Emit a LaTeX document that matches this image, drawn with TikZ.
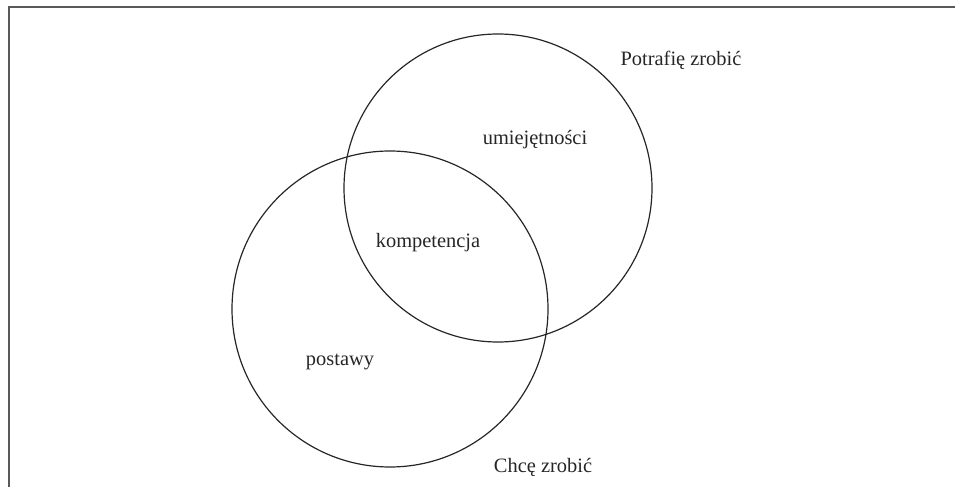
\documentclass[tikz,border=0pt]{standalone}
\usepackage{fontspec}
\setmainfont{Liberation Serif}
\begin{document}
\begin{tikzpicture}[x=1bp,y=-1bp,
  ring/.style={draw=black!85,line width=1.2bp},
  lbl/.style={font=\fontsize{20.5}{24}\selectfont,text=black!85,inner sep=0pt},
  frame/.style={draw=black!65,line width=2bp}]
\useasboundingbox (0,0) rectangle (955,487);
\coordinate (fa) at (8.5,487);
\coordinate (fb) at (8.5,7.5);
\coordinate (fc) at (955,7.5);
\draw[frame] (fa) -- (fb) -- (fc);
\node[ring,circle,minimum size=308bp,inner sep=0pt] (top) at (498,188) {};
\node[ring,circle,minimum size=316bp,inner sep=0pt] (bot) at (390,309) {};
\node[lbl] (pz) at (681,60) {Potrafię zrobić};
\node[lbl] (um) at (535,140) {umiejętności};
\node[lbl] (ko) at (428,243) {kompetencja};
\node[lbl] (po) at (340,362) {postawy};
\node[lbl] (cz) at (543,467) {Chcę zrobić};
\end{tikzpicture}
\end{document}
